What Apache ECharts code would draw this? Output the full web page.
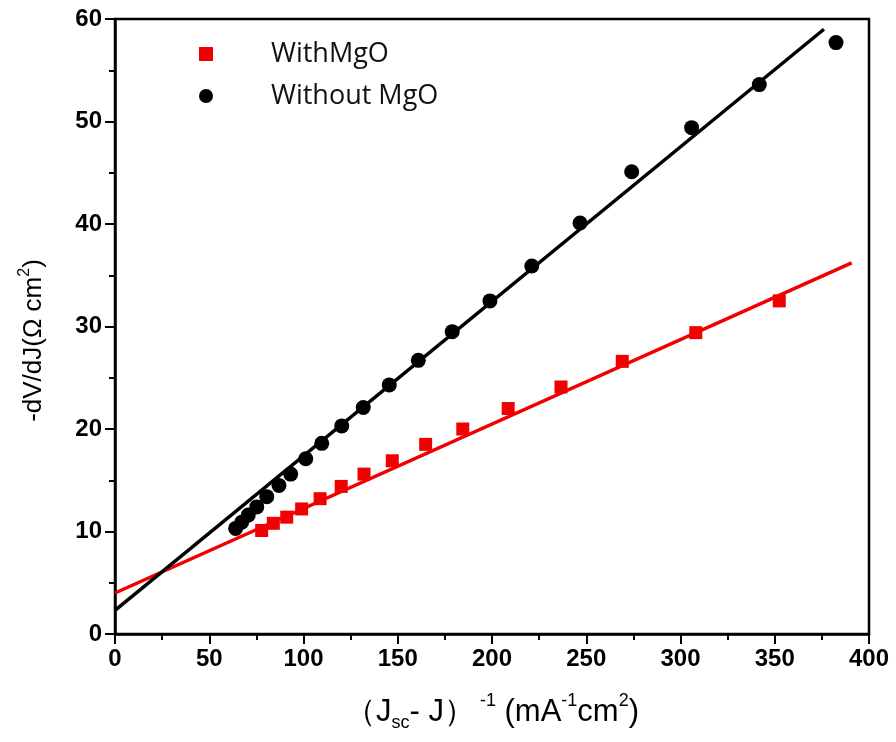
<!DOCTYPE html>
<html>
<head>
<meta charset="utf-8">
<script src="https://cdn.jsdelivr.net/npm/echarts@6/dist/echarts.min.js"></script>
<style>
  html, body { margin: 0; padding: 0; background: #fff; }
  #chart { width: 896px; height: 742px; }
</style>
</head>
<body>
<div id="chart"></div>
<script>
const withX = [77.8, 84.0, 91.1, 99.0, 108.8, 120.0, 132.1, 147.1, 164.8, 184.5, 208.6, 236.6, 269.1, 308.1, 352.4];
const withY = [10.1, 10.8, 11.4, 12.2, 13.2, 14.4, 15.6, 16.9, 18.5, 20.0, 22.0, 24.1, 26.6, 29.4, 32.5];

const withoutX = [64.0, 67.2, 70.7, 75.2, 80.5, 87.0, 93.2, 101.2, 109.7, 120.3, 131.7, 145.5, 160.9, 178.9, 198.9, 221.1, 246.7, 274.1, 305.9, 341.8, 382.5];
const withoutY = [10.3, 10.9, 11.6, 12.4, 13.4, 14.5, 15.6, 17.1, 18.6, 20.3, 22.1, 24.3, 26.7, 29.5, 32.5, 35.9, 40.1, 45.1, 49.4, 53.6, 57.7];

// linear fit end points [x, y]
const withFit = [[0, 4.0], [390.8, 36.2]];
const withoutFit = [[0, 2.3], [376.1, 59.0]];

const seriesNames = ["WithMgO", "Without MgO"];

const RED = "#f00000";
const BLACK = "#000";

const zip = (xs, ys) => xs.map((x, i) => [x, ys[i]]);

const chart = echarts.init(document.getElementById("chart"));

const axisCommon = {
  axisLine: { show: true, onZero: false, lineStyle: { color: BLACK, width: 2.5 } },
  axisTick: { show: true, length: 10, lineStyle: { color: BLACK, width: 2 } },
  minorTick: { show: true, splitNumber: 2, length: 6, lineStyle: { color: BLACK, width: 2 } },
  splitLine: { show: false },
  axisLabel: { color: BLACK, fontFamily: "Liberation Sans", fontSize: 24, fontWeight: "bold", margin: 13 },
};

chart.setOption({
  animation: false,
  backgroundColor: "#fff",
  grid: {
    left: 115, right: 27, top: 19, bottom: 108,
    show: true, borderColor: BLACK, borderWidth: 2.5,
  },
  legend: {
    orient: "vertical",
    left: 194, top: 35,
    itemWidth: 14, itemHeight: 14, itemGap: 14,
    data: seriesNames,
    textStyle: {
      color: "#111", fontFamily: "Open Sans", fontSize: 27,
      lineHeight: 28, padding: [0, 0, 0, 53],
    },
  },
  xAxis: {
    ...axisCommon,
    type: "value",
    min: 0, max: 400, interval: 50,
    nameLocation: "middle",
    nameGap: 58,
    name: "{t|（J}{sub|sc}{t|- J）}{sup| -1}{t| (mA}{sup|-1}{t|cm}{sup|2}{t|)}",
    nameTextStyle: {
      rich: {
        t: { fontFamily: "Liberation Sans", fontSize: 31, lineHeight: 40, color: BLACK },
        sub: { fontFamily: "Liberation Sans", fontSize: 18, lineHeight: 18, verticalAlign: "bottom", color: BLACK },
        sup: { fontFamily: "Liberation Sans", fontSize: 18, lineHeight: 20, verticalAlign: "top", color: BLACK },
      },
    },
  },
  yAxis: {
    ...axisCommon,
    type: "value",
    min: 0, max: 60, interval: 10,
    nameLocation: "middle",
    nameGap: 64,
    name: "{t|-dV/dJ(Ω cm}{sup|2}{t|)}",
    nameTextStyle: {
      padding: [0, 28, 0, 0],
      rich: {
        t: { fontFamily: "Liberation Sans", fontSize: 26, lineHeight: 34, color: BLACK },
        sup: { fontFamily: "Liberation Sans", fontSize: 16, lineHeight: 16, verticalAlign: "top", color: BLACK },
      },
    },
  },
  series: [
    {
      name: seriesNames[0],
      type: "scatter",
      symbol: "rect",
      symbolSize: 13,
      itemStyle: { color: RED, opacity: 1 },
      data: zip(withX, withY),
      z: 3,
    },
    {
      name: seriesNames[1],
      type: "scatter",
      symbol: "circle",
      symbolSize: 15,
      itemStyle: { color: BLACK, opacity: 1 },
      data: zip(withoutX, withoutY),
      z: 3,
    },
    {
      name: "fit-with",
      type: "line",
      data: withFit,
      symbol: "none",
      lineStyle: { color: RED, width: 3.5 },
      z: 4,
    },
    {
      name: "fit-without",
      type: "line",
      data: withoutFit,
      symbol: "none",
      lineStyle: { color: BLACK, width: 3.5 },
      z: 4,
    },
  ],
});
</script>
</body>
</html>
